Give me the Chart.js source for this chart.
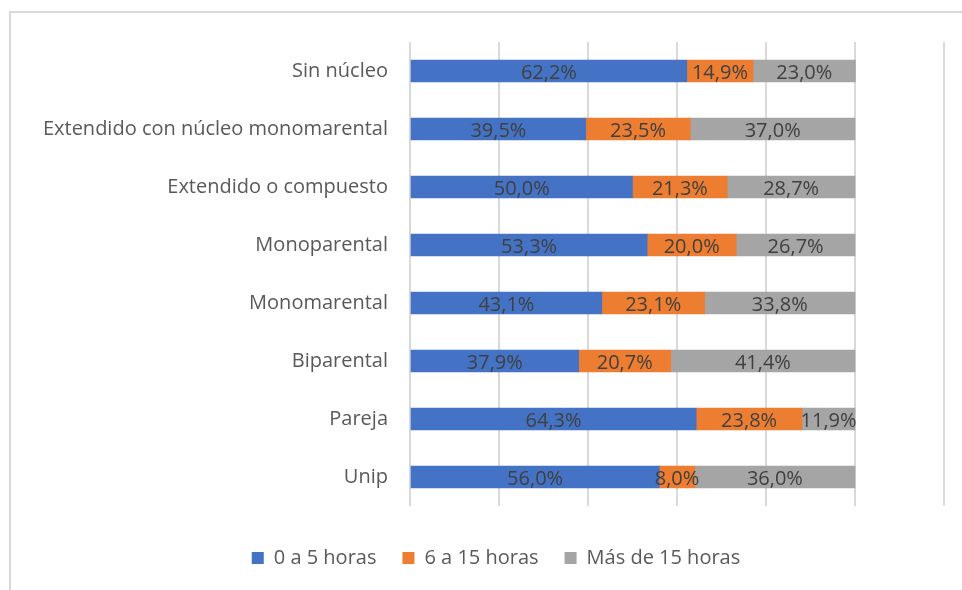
<!DOCTYPE html>
<html lang="es">
<head>
<meta charset="utf-8">
<title>Horas por tipo de hogar</title>
<script src="https://cdn.jsdelivr.net/npm/chart.js@4/dist/chart.umd.min.js"></script>
<style>
  html, body { margin: 0; padding: 0; background: #fff; overflow: hidden; }
  .frame {
    position: absolute; left: 9px; top: 11px; width: 980px; height: 600px;
    border-top: 2px solid #d9d9d9; border-left: 2px solid #d9d9d9;
  }
  .chart-wrap { position: absolute; left: 0; top: 0; width: 962px; height: 590px; }
</style>
</head>
<body>
<div class="frame"></div>
<div class="chart-wrap"><canvas id="hours-chart"></canvas></div>
<script>
// categorías (de arriba hacia abajo)
const categories = [
  'Sin núcleo',
  'Extendido con núcleo monomarental',
  'Extendido o compuesto',
  'Monoparental',
  'Monomarental',
  'Biparental',
  'Pareja',
  'Unip'
];

const seriesNames = ['0 a 5 horas', '6 a 15 horas', 'Más de 15 horas'];

const hours0to5   = [62.2, 39.5, 50.0, 53.3, 43.1, 37.9, 64.3, 56.0];
const hours6to15  = [14.9, 23.5, 21.3, 20.0, 23.1, 20.7, 23.8, 8.0];
const hoursOver15 = [23.0, 37.0, 28.7, 26.7, 33.8, 41.4, 11.9, 36.0];

const colors = ['#4472C4', '#ED7D31', '#A5A5A5'];
const FONT = "'Open Sans', 'Liberation Sans', Arial, sans-serif";

// etiquetas de porcentaje dentro de cada segmento
const segmentLabels = {
  id: 'segmentLabels',
  afterDatasetsDraw(chart) {
    const ctx = chart.ctx;
    ctx.save();
    ctx.font = '20px ' + FONT;
    ctx.fillStyle = '#404040';
    ctx.textAlign = 'center';
    ctx.textBaseline = 'middle';
    chart.data.datasets.forEach((ds, i) => {
      const meta = chart.getDatasetMeta(i);
      meta.data.forEach((bar, j) => {
        const txt = ds.data[j].toFixed(1).replace('.', ',') + '%';
        ctx.fillText(txt, (bar.x + bar.base) / 2, bar.y + 2);
      });
    });
    ctx.restore();
  }
};

const ctx = document.getElementById('hours-chart').getContext('2d');
new Chart(ctx, {
  type: 'bar',
  data: {
    labels: categories,
    datasets: [
      { label: seriesNames[0], data: hours0to5,   backgroundColor: colors[0] },
      { label: seriesNames[1], data: hours6to15,  backgroundColor: colors[1] },
      { label: seriesNames[2], data: hoursOver15, backgroundColor: colors[2] }
    ]
  },
  options: {
    indexAxis: 'y',
    responsive: true,
    maintainAspectRatio: false,
    animation: false,
    barThickness: 22,
    layout: { padding: { left: 40, right: 10, top: 42, bottom: 12 } },
    plugins: {
      legend: {
        position: 'bottom',
        labels: {
          boxWidth: 12,
          boxHeight: 12,
          padding: 26,
          color: '#595959',
          font: { family: FONT, size: 20 }
        }
      },
      tooltip: { enabled: false }
    },
    scales: {
      x: {
        stacked: true,
        min: 0,
        max: 120,
        ticks: { display: false, stepSize: 20 },
        border: { display: false },
        grid: { color: '#d9d9d9', lineWidth: 2, drawTicks: false },
        afterFit(scale) { scale.height = 16; }
      },
      y: {
        stacked: true,
        ticks: {
          color: '#595959',
          padding: 22,
          font: { family: FONT, size: 20 }
        },
        border: { display: false },
        grid: { display: false, drawTicks: false },
        afterFit(scale) { scale.width = 370; }
      },
      // eje vacío a la derecha, solo reserva espacio
      yRight: {
        type: 'category',
        position: 'right',
        ticks: { display: false },
        border: { display: false },
        grid: { display: false, drawTicks: false },
        afterFit(scale) { scale.width = 8; }
      }
    }
  },
  plugins: [segmentLabels]
});
</script>
</body>
</html>
